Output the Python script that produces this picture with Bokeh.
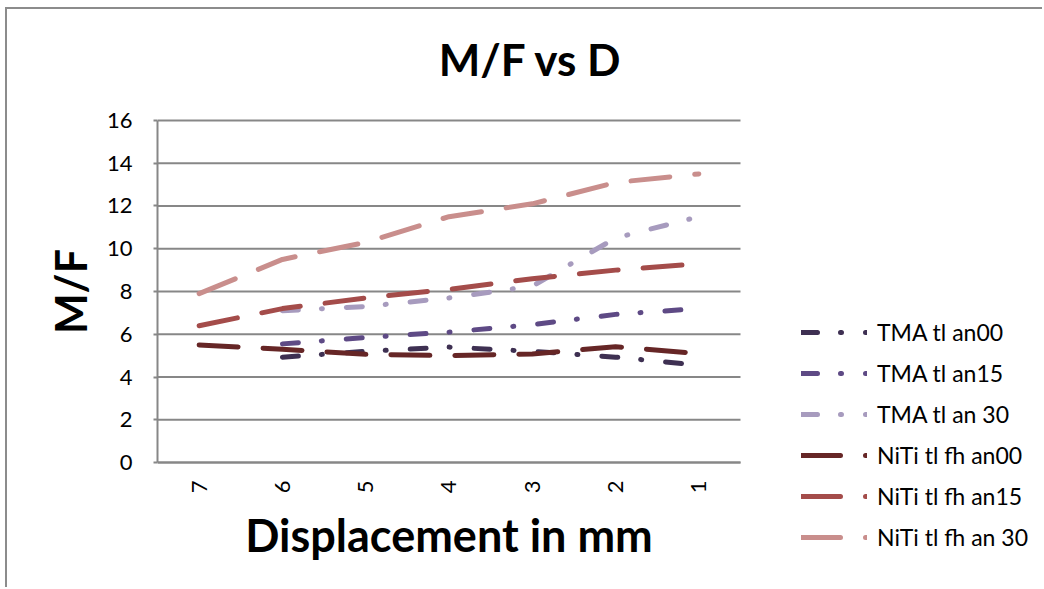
import math
from bokeh.plotting import figure
from bokeh.models import Range1d, Legend, LegendItem, Label, FixedTicker
from bokeh.embed import file_html
from bokeh.resources import INLINE

# ---- data ----
categories = ["7", "6", "5", "4", "3", "2", "1"]
tma_categories = ["6", "5", "4", "3", "2", "1"]

tma_an00 = [4.93, 5.2, 5.4, 5.2, 4.93, 4.55]
tma_an15 = [5.55, 5.85, 6.1, 6.45, 6.93, 7.2]
tma_an30 = [7.1, 7.3, 7.7, 8.25, 10.5, 11.5]
niti_an00 = [5.5, 5.3, 5.06, 5.0, 5.08, 5.42, 5.1]
niti_an15 = [6.4, 7.2, 7.7, 8.1, 8.6, 9.0, 9.3]
niti_an30 = [7.9, 9.5, 10.3, 11.5, 12.1, 13.1, 13.5]

series_names = ["TMA tl an00", "TMA tl an15", "TMA tl an 30",
                "NiTi tl fh an00", "NiTi tl fh an15", "NiTi tl fh an 30"]
y_ticks = [0, 2, 4, 6, 8, 10, 12, 14, 16]

FONT = "Lato"
GRID = "#878787"

cat_idx = list(range(len(categories)))
tma_idx = [categories.index(c) for c in tma_categories]
x_lo, x_hi = -0.5, len(categories) - 0.5
y_lo, y_hi = y_ticks[0], y_ticks[-1]

p = figure(
    width=1037, height=580,
    x_range=Range1d(x_lo, 10.15),
    y_range=Range1d(-5.19, 21.19),
    output_backend="svg", toolbar_location=None,
    min_border_left=150, min_border_right=0,
    min_border_top=0, min_border_bottom=16,
)
p.styles = {"margin-left": "5px", "margin-top": "7px",
            "border-left": "2px solid #8C8C8C", "border-top": "2px solid #8C8C8C"}
p.outline_line_color = None
p.background_fill_color = "white"
p.border_fill_color = "white"
p.xgrid.visible = False
p.ygrid.visible = False

# horizontal grid lines limited to the plot area
p.segment(x0=[x_lo] * len(y_ticks), x1=[x_hi] * len(y_ticks), y0=y_ticks, y1=y_ticks,
          line_color=GRID, line_width=2)

# y axis
p.yaxis.ticker = FixedTicker(ticks=y_ticks)
p.yaxis.bounds = (y_lo, y_hi)
p.yaxis.axis_line_color = GRID
p.yaxis.axis_line_width = 2
p.yaxis.major_tick_line_color = GRID
p.yaxis.major_tick_line_width = 2
p.yaxis.major_tick_out = 4
p.yaxis.major_tick_in = 0
p.yaxis.minor_tick_line_color = None
p.yaxis.major_label_standoff = 21
p.yaxis.major_label_text_font = FONT
p.yaxis.major_label_text_font_size = "22px"
p.yaxis.major_label_text_color = "black"
p.yaxis.axis_label = "M/F"
p.yaxis.axis_label_text_font = FONT
p.yaxis.axis_label_text_font_style = "bold"
p.yaxis.axis_label_text_font_size = "43px"
p.yaxis.axis_label_text_color = "black"
p.yaxis.axis_label_standoff = 8

# x axis (category axis) at y = 0
p.xaxis.fixed_location = 0
p.xaxis.bounds = (x_lo, x_hi)
p.xaxis.ticker = FixedTicker(ticks=cat_idx)
p.xaxis.major_label_overrides = {i: c for i, c in enumerate(categories)}
p.xaxis.axis_line_color = GRID
p.xaxis.axis_line_width = 2
p.xaxis.major_tick_line_color = None
p.xaxis.minor_tick_line_color = None
p.xaxis.major_tick_out = 0
p.xaxis.major_label_orientation = math.pi / 2
p.xaxis.major_label_standoff = 18
p.xaxis.major_label_text_font = FONT
p.xaxis.major_label_text_font_size = "22px"
p.xaxis.major_label_text_color = "black"
p.xaxis.axis_label = "Displacement in mm"
p.xaxis.axis_label_text_font = FONT
p.xaxis.axis_label_text_font_style = "bold"
p.xaxis.axis_label_text_font_size = "45px"
p.xaxis.axis_label_text_color = "black"
p.xaxis.axis_label_standoff = 12

TMA_DASH = "16 23 1 24"
NITI_DASH = "39 25"

specs = [
    (tma_idx, tma_an00, "#3E3052", TMA_DASH),
    (tma_idx, tma_an15, "#5E4A85", TMA_DASH),
    (tma_idx, tma_an30, "#A79BBE", TMA_DASH),
    (cat_idx, niti_an00, "#662626", NITI_DASH),
    (cat_idx, niti_an15, "#A44C4A", NITI_DASH),
    (cat_idx, niti_an30, "#C98E8C", NITI_DASH),
]

renderers = []
for xs, ys, color, dash in specs:
    r = p.line(xs, ys, line_color=color, line_width=5, line_dash=dash,
               line_cap="round", line_join="round")
    renderers.append(r)

items = [LegendItem(label=n, renderers=[r]) for n, r in zip(series_names, renderers)]
legend = Legend(
    items=items, location=(644, 21), orientation="vertical",
    padding=0, spacing=11, margin=0,
    glyph_width=66, glyph_height=30, label_height=30, label_standoff=10,
    label_text_font=FONT, label_text_font_size="23px", label_text_color="black",
    background_fill_alpha=0, border_line_alpha=0,
)
p.add_layout(legend)

title = Label(x=3.98, y=18.86, x_units="data", y_units="data", text="M/F vs D",
              text_align="center", text_baseline="alphabetic",
              text_font=FONT, text_font_style="bold", text_font_size="44px",
              text_color="black")
p.add_layout(title)

open("out.html", "w").write(file_html(p, INLINE))
